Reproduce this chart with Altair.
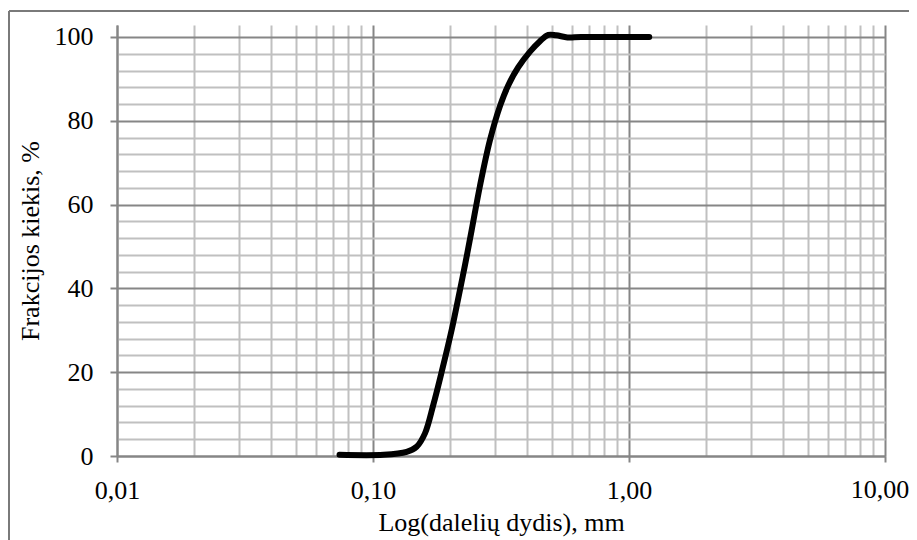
import altair as alt
import pandas as pd

# particle size (mm) and cumulative fraction (%)
sizes = [0.074, 0.11, 0.1354, 0.148, 0.1596, 0.172, 0.1855, 0.2029, 0.2146, 0.2286,
         0.2429, 0.2618, 0.2864, 0.3133, 0.3377, 0.3695, 0.4106, 0.449, 0.484, 0.52,
         0.575, 0.65, 1.2]
percent = [0.3, 0.3, 1.0, 2.2, 5.4, 12.2, 20.1, 30.1, 37.2, 45.5,
           53.9, 64.5, 75.4, 83.5, 88.5, 92.8, 96.5, 99.0, 100.5, 100.4,
           99.9, 100.0, 100.0]

x_grid = [round(m * 10 ** k, 6) for k in (-2, -1, 0) for m in range(1, 10)] + [10.0]
y_grid = list(range(0, 101, 4))
last_label = "10,00"

df = pd.DataFrame({"size": sizes, "pct": percent})

FONT = "Liberation Serif"
MAJ = "#868686"
MIN = "#c0c0c0"
major_x = "abs(log(datum.value)/LN10 - round(log(datum.value)/LN10)) < 1e-6"
major_y = "datum.value % 20 == 0"

W, H = 768, 431

x_axis = alt.Axis(
    values=x_grid, grid=True,
    gridColor={"condition": {"test": major_x, "value": MAJ}, "value": MIN},
    gridWidth=2,
    tickColor={"condition": {"test": major_x, "value": MAJ}, "value": "transparent"},
    tickSize=6, tickWidth=2,
    domainColor=MAJ, domainWidth=2,
    labelExpr="(" + major_x + " && datum.value < 5) ? replace(format(datum.value, '.2f'), '.', ',') : ''",
    labelFont=FONT, labelFontSize=26, labelColor="black",
    labelPadding=15, labelOverlap=False, labelFlush=False,
    title="Log(dalelių dydis), mm", titleFont=FONT, titleFontSize=26,
    titleFontWeight="normal", titleColor="black",
    titleX=W / 2, titleY=74, titleBaseline="alphabetic",
)

y_axis = alt.Axis(
    values=y_grid, grid=True,
    gridColor={"condition": {"test": major_y, "value": MAJ}, "value": MIN},
    gridWidth=2,
    tickColor={"condition": {"test": major_y, "value": MAJ}, "value": "transparent"},
    tickSize=7, tickWidth=2,
    domainColor=MAJ, domainWidth=2,
    labelExpr="(" + major_y + ") ? datum.label : ''", format="d",
    labelFont=FONT, labelFontSize=26, labelColor="black",
    labelPadding=17, labelOverlap=False, labelFlush=False,
    title="Frakcijos kiekis, %", titleFont=FONT, titleFontSize=26,
    titleFontWeight="normal", titleColor="black",
    titleAngle=-90, titleX=-79, titleY=H / 2, titleBaseline="alphabetic",
    titleAlign="center",
)

xs = alt.Scale(type="log", domain=[0.01, 10], nice=False)

line = alt.Chart(df).mark_line(
    color="black", strokeWidth=6, interpolate="catmull-rom", strokeCap="round", strokeJoin="round"
).encode(
    x=alt.X("size:Q", scale=xs, axis=x_axis),
    y=alt.Y("pct:Q", scale=alt.Scale(domain=[0, 102.86], nice=False, zero=True), axis=y_axis),
)

one = pd.DataFrame({"k": [0]})
frame_left = alt.Chart(one).mark_rule(color="#7a7a7a", strokeWidth=2).encode(
    x=alt.value(-108), y=alt.value(-14), y2=alt.value(540)
)
frame_top = alt.Chart(one).mark_rule(color="#7a7a7a", strokeWidth=2).encode(
    x=alt.value(-108), x2=alt.value(900), y=alt.value(-14)
)
end_label = alt.Chart(one).mark_text(
    text=last_label, font=FONT, fontSize=26, color="black",
    align="center", baseline="top", dx=-5
).encode(x=alt.datum(10.0, scale=xs), y=alt.value(H + 21))

chart = alt.layer(frame_left, frame_top, line, end_label).properties(
    width=W, height=H,
    autosize=alt.AutoSizeParams(type="none"),
    padding={"left": 109, "top": 17, "right": 24, "bottom": 84},
).configure_view(stroke="transparent")

chart.save("out.html", embed_options={"renderer": "svg", "actions": False})
